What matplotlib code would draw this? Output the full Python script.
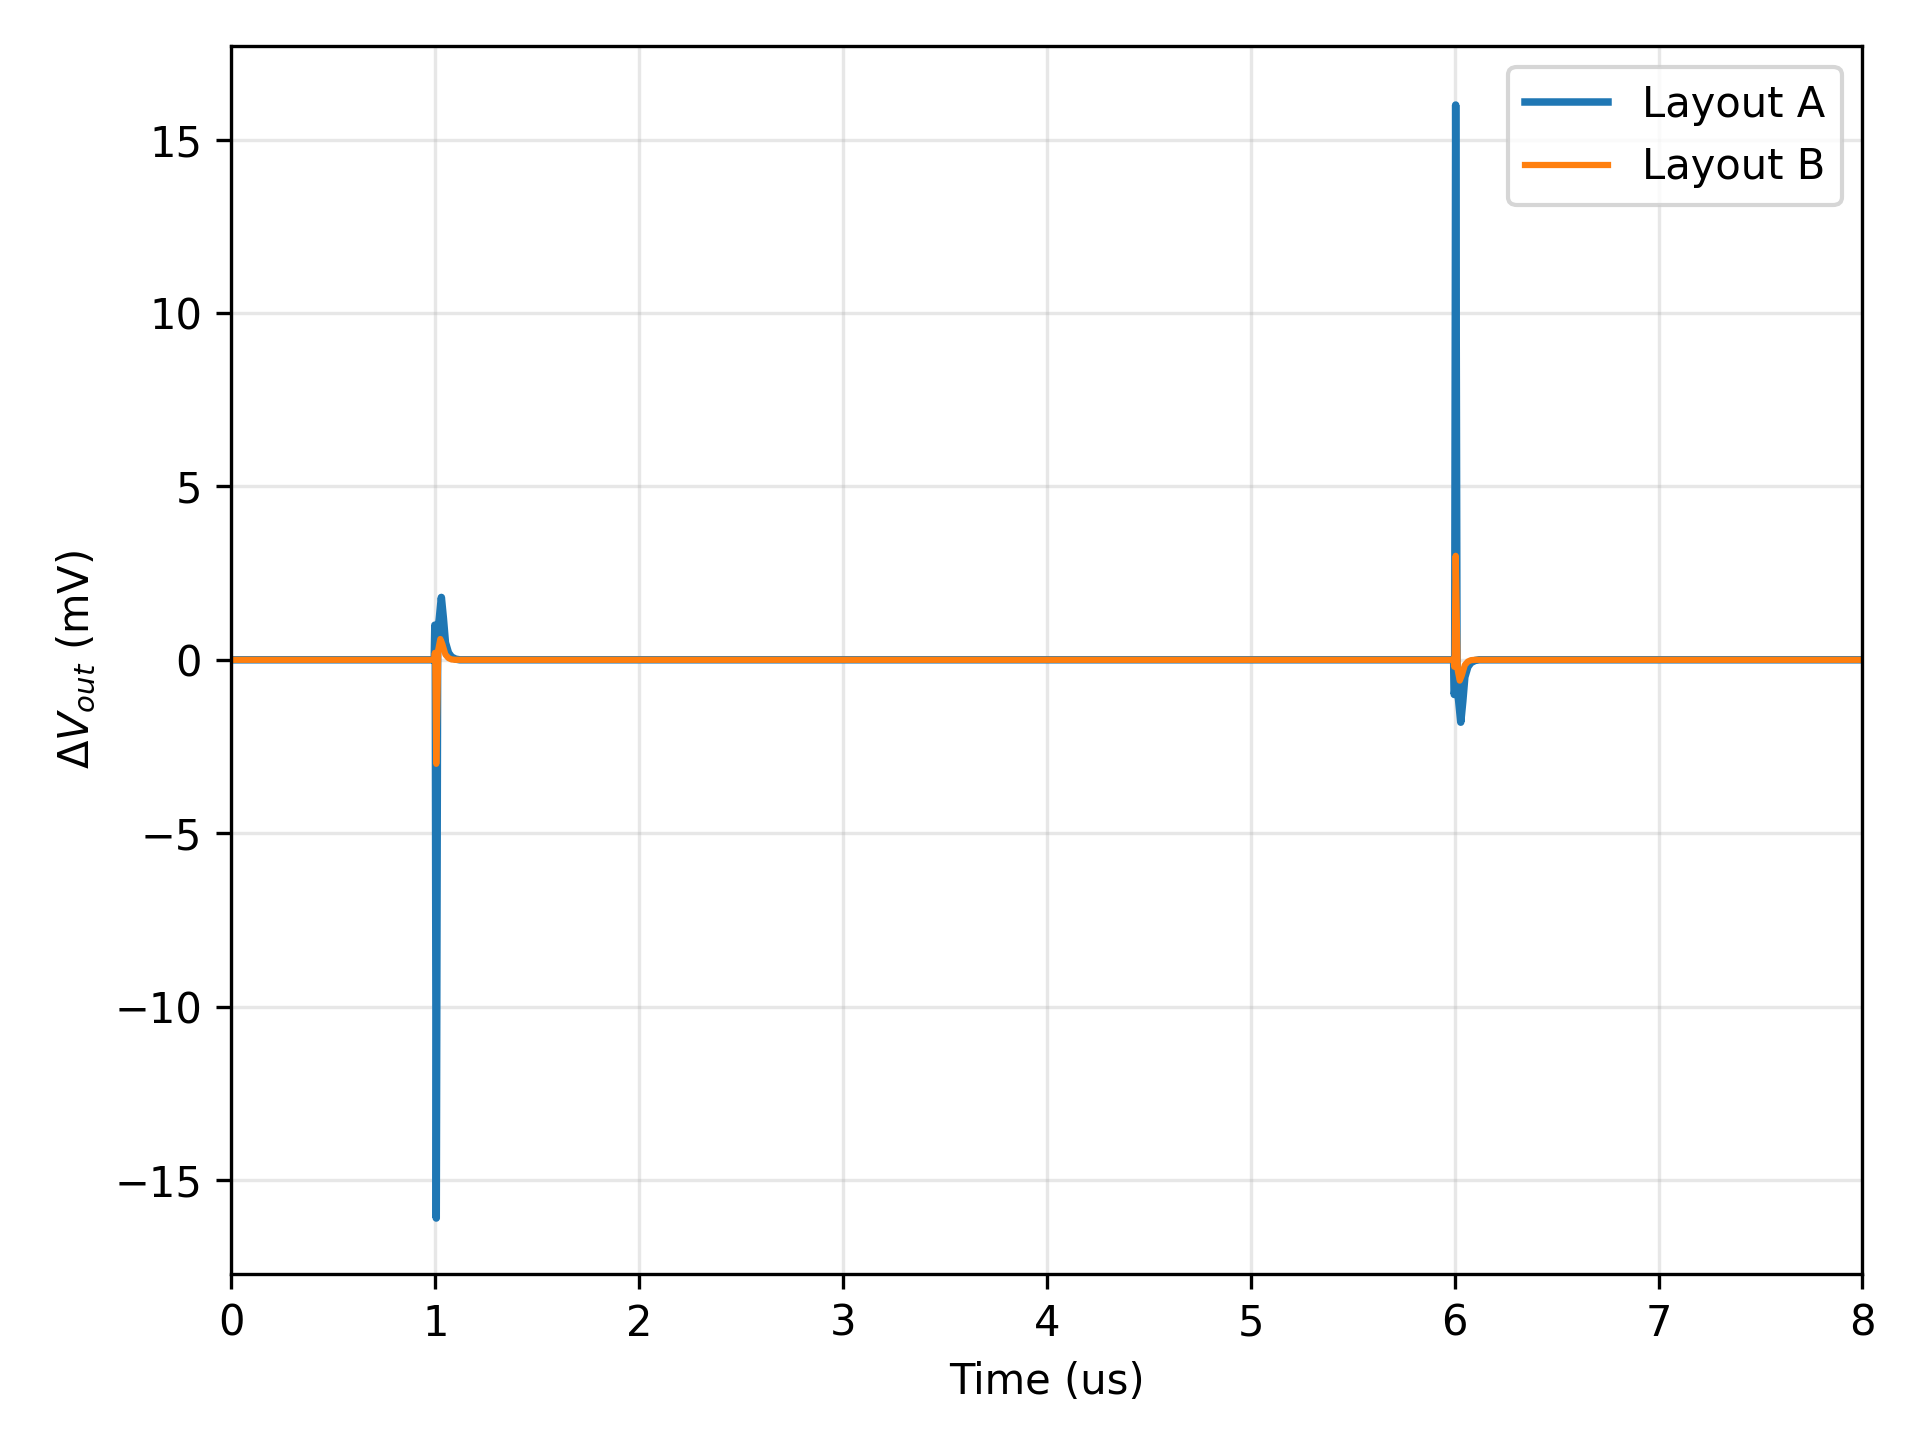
import matplotlib
matplotlib.use("Agg")
import matplotlib.pyplot as plt

t_a = [0, 0.995, 0.998, 1.0, 1.005, 1.012, 1.02, 1.03, 1.04, 1.05, 1.065, 1.08, 1.1, 1.12,
       5.995, 5.998, 6.0, 6.005, 6.012, 6.02, 6.03, 6.04, 6.05, 6.065, 6.08, 6.1, 6.12, 8]
v_a = [0, 0, 1.0, 0.9, -16.1, 0.8, 1.2, 1.8, 1.2, 0.5, 0.2, 0.08, 0.02, 0,
       0, -1.0, -0.9, 16.0, -0.8, -1.2, -1.8, -1.2, -0.5, -0.2, -0.08, -0.02, 0, 0]
t_b = [0, 0.995, 0.998, 1.0, 1.005, 1.015, 1.025, 1.035, 1.05, 1.065, 1.08, 1.1,
       5.995, 5.998, 6.0, 6.005, 6.015, 6.025, 6.035, 6.05, 6.065, 6.08, 6.1, 8]
v_b = [0, 0, 0.2, 0.0, -3.0, 0.3, 0.6, 0.45, 0.15, 0.05, 0.01, 0,
       0, -0.2, 0.0, 3.0, -0.3, -0.6, -0.45, -0.15, -0.05, -0.01, 0, 0]

fig, ax = plt.subplots(figsize=(6.4, 4.8), dpi=300)
fig.subplots_adjust(left=0.1205, right=0.970, top=0.968, bottom=0.1156)
ax.plot(t_a, v_a, color="#1f77b4", lw=1.8, label="Layout A")
ax.plot(t_b, v_b, color="#ff7f0e", lw=1.5, label="Layout B")
ax.set_xlim(0, 8)
ax.set_ylim(-17.7, 17.7)
ax.set_xlabel("Time (us)")
ax.set_ylabel(r"$\Delta V_{out}$ (mV)")
ax.grid(True, alpha=0.3)
ax.legend(loc="upper right")
fig.savefig("out.png", dpi=300)
